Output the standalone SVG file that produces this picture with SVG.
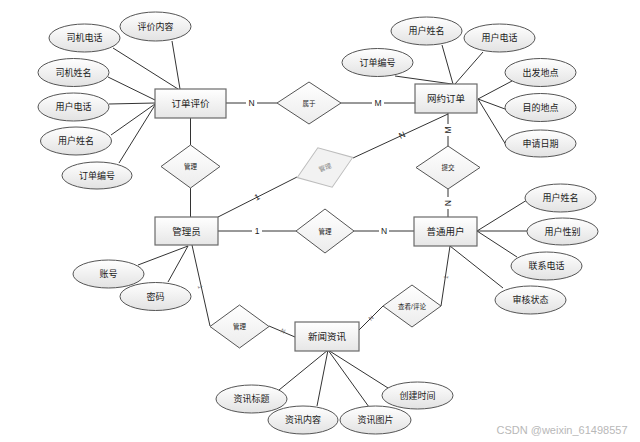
<svg xmlns="http://www.w3.org/2000/svg" width="640" height="442" viewBox="0 0 640 442">
<defs>
<linearGradient id="gr" x1="0" y1="0" x2="0" y2="1"><stop offset="0" stop-color="#ffffff"/><stop offset="1" stop-color="#e6e6e6"/></linearGradient>
<linearGradient id="ge" x1="0" y1="0" x2="0" y2="1"><stop offset="0" stop-color="#ffffff"/><stop offset="1" stop-color="#e2e2e2"/></linearGradient>
<linearGradient id="gd" x1="0" y1="0" x2="0" y2="1"><stop offset="0" stop-color="#ffffff"/><stop offset="1" stop-color="#ececec"/></linearGradient>
</defs>
<style>
text{font-family:"Liberation Sans","Noto Sans CJK SC",sans-serif;text-anchor:middle;dominant-baseline:central;fill:#1a1a1a}
.ent rect{fill:url(#gr);stroke:#6a6a6a;stroke-width:1.2}
.ent text{font-size:9.5px}
.att ellipse{fill:url(#ge);stroke:#555;stroke-width:1}
.att text{font-size:9px}
.rel polygon{fill:url(#gd);stroke:#555;stroke-width:1}
.rel text{font-size:6.5px}
.ghost polygon{fill:#f2f2f2;stroke:#bdbdbd;stroke-width:1}
.ghost text{font-size:6.5px;fill:#888}
#connectors line{stroke:#333;stroke-width:1}
.lbl{font-size:8.5px;fill:#222}
.sml{font-size:6px;fill:#666}
</style>
<rect width="640" height="442" fill="#ffffff"/>
<g id="connectors">
<line x1="172" y1="41" x2="180" y2="89"/>
<line x1="113" y1="48" x2="178" y2="89"/>
<line x1="108" y1="77" x2="155" y2="100"/>
<line x1="109" y1="104" x2="155" y2="103"/>
<line x1="111" y1="135" x2="155" y2="104"/>
<line x1="119" y1="163" x2="155" y2="105"/>
<line x1="226" y1="103" x2="277" y2="103"/>
<line x1="341" y1="103" x2="415" y2="103"/>
<line x1="442" y1="45" x2="453" y2="84"/>
<line x1="483" y1="52" x2="455" y2="84"/>
<line x1="395" y1="76" x2="452" y2="84"/>
<line x1="512" y1="81" x2="478" y2="99"/>
<line x1="505" y1="109" x2="478" y2="99"/>
<line x1="506" y1="145" x2="478" y2="99"/>
<line x1="190.5" y1="118" x2="190.5" y2="145"/>
<line x1="190.5" y1="188" x2="190.5" y2="217"/>
<line x1="448" y1="113" x2="448" y2="146"/>
<line x1="448" y1="189" x2="448" y2="217"/>
<line x1="448" y1="114" x2="353" y2="158"/>
<line x1="297" y1="177" x2="218" y2="217"/>
<line x1="218" y1="231" x2="296" y2="231"/>
<line x1="354" y1="231" x2="414" y2="231"/>
<line x1="138" y1="265" x2="188" y2="246"/>
<line x1="168" y1="282" x2="188" y2="246"/>
<line x1="192" y1="245" x2="210" y2="326"/>
<line x1="269" y1="326" x2="295" y2="337"/>
<line x1="359" y1="330" x2="383" y2="306"/>
<line x1="441" y1="306" x2="450" y2="246"/>
<line x1="527" y1="200" x2="477" y2="231"/>
<line x1="527" y1="231" x2="477" y2="231"/>
<line x1="517" y1="257" x2="477" y2="231"/>
<line x1="503" y1="288" x2="450" y2="246"/>
<line x1="328" y1="350" x2="279" y2="390"/>
<line x1="328" y1="350" x2="317" y2="406"/>
<line x1="328" y1="350" x2="369" y2="407"/>
<line x1="328" y1="350" x2="388" y2="388"/>
<rect x="246" y="98" width="11" height="10" fill="#fff"/>
<text class="lbl" x="251.5" y="103">N</text>
<rect x="372" y="98" width="12" height="10" fill="#fff"/>
<text class="lbl" x="378" y="103">M</text>
<rect x="443" y="124" width="10" height="12" fill="#fff"/>
<text class="lbl" x="448" y="130" transform="rotate(-90 448 130)">M</text>
<rect x="443" y="197" width="10" height="12" fill="#fff"/>
<text class="lbl" x="448" y="203" transform="rotate(90 448 203)">N</text>
<text class="lbl" x="402" y="135" transform="rotate(-25 402 135)">N</text>
<text class="lbl" x="257" y="197" transform="rotate(-27 257 197)">1</text>
<rect x="252" y="226" width="10" height="10" fill="#fff"/>
<text class="lbl" x="257" y="231">1</text>
<rect x="379" y="226" width="10" height="10" fill="#fff"/>
<text class="lbl" x="384" y="231">N</text>
<text class="sml" x="200" y="287" transform="rotate(77 200 287)">1</text>
<text class="sml" x="283" y="331" transform="rotate(23 283 331)">N</text>
<text class="sml" x="371" y="318" transform="rotate(-45 371 318)">N</text>
<text class="sml" x="446" y="277" transform="rotate(-82 446 277)">1</text>
</g>
<g id="order-review" class="ent"><rect x="155" y="89" width="71" height="29"/><text x="190.5" y="103.5">订单评价</text></g>
<g id="ride-order" class="ent"><rect x="415" y="84" width="62" height="29"/><text x="446" y="98.5">网约订单</text></g>
<g id="admin" class="ent"><rect x="155" y="217" width="63" height="28"/><text x="186.5" y="231">管理员</text></g>
<g id="user" class="ent"><rect x="414" y="217" width="63" height="29"/><text x="445.5" y="231.5">普通用户</text></g>
<g id="news" class="ent"><rect x="295" y="322" width="64" height="29"/><text x="327" y="336.5">新闻资讯</text></g>
<g id="rel-belong" class="rel"><polygon points="277,103 309,82 341,103 309,124"/><text x="309" y="103">属于</text></g>
<g id="rel-manage1" class="rel"><polygon points="161,166.5 190.5,145 220,166.5 190.5,188"/><text x="190.5" y="166.5">管理</text></g>
<g id="rel-manage-ghost" class="ghost" transform="rotate(-20 325 167.5)"><polygon points="295.5,167.5 325,146.5 354.5,167.5 325,188.5"/><text x="325" y="167.5">管理</text></g>
<g id="rel-submit" class="rel"><polygon points="416,167.5 448,146 480,167.5 448,189"/><text x="448" y="167.5">提交</text></g>
<g id="rel-manage2" class="rel"><polygon points="296,231 325,209 354,231 325,253"/><text x="325" y="231">管理</text></g>
<g id="rel-manage3" class="rel"><polygon points="210,326.5 239.5,305 269,326.5 239.5,348"/><text x="239.5" y="326.5">管理</text></g>
<g id="rel-view" class="rel"><polygon points="383,306 412,285 441,306 412,327"/><text x="412" y="306">查看/评论</text></g>
<g id="a-review-content" class="att"><ellipse cx="155.5" cy="26.5" rx="35.5" ry="14.5"/><text x="155.5" y="26.5">评价内容</text></g>
<g id="a-driver-phone" class="att"><ellipse cx="84.5" cy="38" rx="35.5" ry="14"/><text x="84.5" y="38">司机电话</text></g>
<g id="a-driver-name" class="att"><ellipse cx="73.5" cy="72.5" rx="35.5" ry="14"/><text x="73.5" y="72.5">司机姓名</text></g>
<g id="a-user-phone1" class="att"><ellipse cx="73.5" cy="107" rx="35.5" ry="14"/><text x="73.5" y="107">用户电话</text></g>
<g id="a-user-name1" class="att"><ellipse cx="76" cy="141" rx="35.5" ry="14"/><text x="76" y="141">用户姓名</text></g>
<g id="a-order-no1" class="att"><ellipse cx="97" cy="175.5" rx="35" ry="13.5"/><text x="97" y="175.5">订单编号</text></g>
<g id="a-user-name2" class="att"><ellipse cx="426.5" cy="31" rx="35.5" ry="14"/><text x="426.5" y="31">用户姓名</text></g>
<g id="a-user-phone2" class="att"><ellipse cx="499.5" cy="38" rx="35.5" ry="14"/><text x="499.5" y="38">用户电话</text></g>
<g id="a-order-no2" class="att"><ellipse cx="377.5" cy="62.5" rx="35.5" ry="14"/><text x="377.5" y="62.5">订单编号</text></g>
<g id="a-from" class="att"><ellipse cx="540.5" cy="72.5" rx="35.5" ry="14"/><text x="540.5" y="72.5">出发地点</text></g>
<g id="a-to" class="att"><ellipse cx="540.5" cy="107.5" rx="35.5" ry="14"/><text x="540.5" y="107.5">目的地点</text></g>
<g id="a-date" class="att"><ellipse cx="540.5" cy="143.5" rx="35.5" ry="13.5"/><text x="540.5" y="143.5">申请日期</text></g>
<g id="a-account" class="att"><ellipse cx="108.5" cy="274" rx="35.5" ry="14"/><text x="108.5" y="274">账号</text></g>
<g id="a-password" class="att"><ellipse cx="155.5" cy="296.5" rx="35.5" ry="14"/><text x="155.5" y="296.5">密码</text></g>
<g id="a-user-name3" class="att"><ellipse cx="560.5" cy="198" rx="35.5" ry="14"/><text x="560.5" y="198">用户姓名</text></g>
<g id="a-user-gender" class="att"><ellipse cx="562.5" cy="231.5" rx="35.5" ry="13.5"/><text x="562.5" y="231.5">用户性别</text></g>
<g id="a-contact" class="att"><ellipse cx="546.5" cy="266" rx="35.5" ry="14"/><text x="546.5" y="266">联系电话</text></g>
<g id="a-audit" class="att"><ellipse cx="530.5" cy="300" rx="35.5" ry="14"/><text x="530.5" y="300">审核状态</text></g>
<g id="a-news-title" class="att"><ellipse cx="251.5" cy="399" rx="35.5" ry="14"/><text x="251.5" y="399">资讯标题</text></g>
<g id="a-news-content" class="att"><ellipse cx="303" cy="420" rx="35" ry="14"/><text x="303" y="420">资讯内容</text></g>
<g id="a-news-image" class="att"><ellipse cx="375.5" cy="420" rx="35.5" ry="14"/><text x="375.5" y="420">资讯图片</text></g>
<g id="a-created" class="att"><ellipse cx="417.5" cy="395.5" rx="35.5" ry="13.5"/><text x="417.5" y="395.5">创建时间</text></g>
<text x="562" y="430" style="font-size:11px;fill:#b8b8b8">CSDN @weixin_61498557</text>
</svg>
